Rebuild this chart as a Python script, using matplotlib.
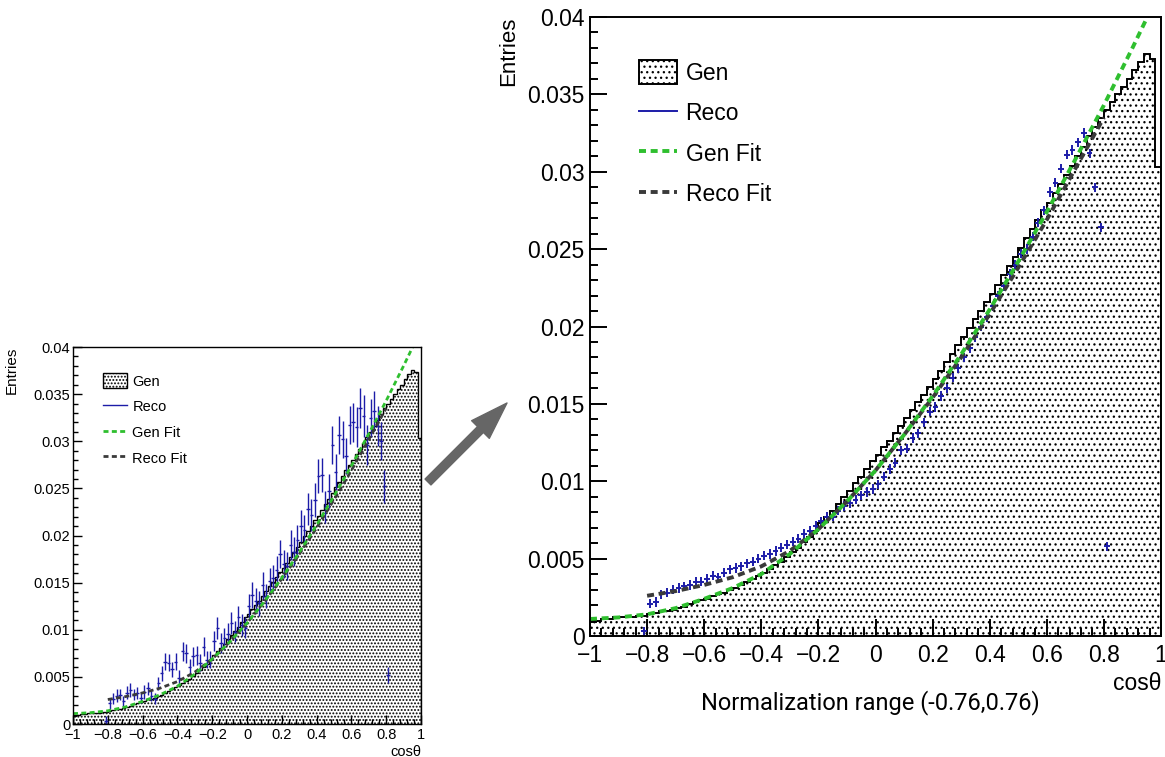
import numpy as np
import matplotlib.pyplot as plt
from matplotlib.patches import Patch
from matplotlib.lines import Line2D
from matplotlib.ticker import MultipleLocator

plt.rcParams['font.family'] = ['Liberation Sans', 'DejaVu Sans']
plt.rcParams['hatch.linewidth'] = 0.9

BLUE = '#1c1ca8'
GREEN = '#2fbf2f'
DARK = '#3a3a3a'

# Gen histogram, 100 bins from -1 to 1
gen_edges = np.linspace(-1, 1, 101)
gen_hist = [
    0.0009, 0.0010, 0.0011, 0.0011, 0.0012, 0.0012, 0.0012, 0.0012, 0.0013, 0.0013,
    0.0014, 0.0015, 0.0016, 0.0016, 0.0017, 0.0018, 0.0019, 0.0021, 0.0022, 0.0023,
    0.0024, 0.0026, 0.0027, 0.0028, 0.0030, 0.0031, 0.0033, 0.0035, 0.0037, 0.0039,
    0.0041, 0.0043, 0.0046, 0.0048, 0.0051, 0.0054, 0.0057, 0.0061, 0.0064, 0.0068,
    0.0073, 0.0077, 0.0081, 0.0085, 0.0090, 0.0094, 0.0099, 0.0103, 0.0108, 0.0113,
    0.0117, 0.0122, 0.0126, 0.0131, 0.0136, 0.0141, 0.0146, 0.0151, 0.0156, 0.0161,
    0.0166, 0.0171, 0.0177, 0.0182, 0.0188, 0.0193, 0.0199, 0.0205, 0.0210, 0.0216,
    0.0221, 0.0227, 0.0233, 0.0239, 0.0245, 0.0251, 0.0257, 0.0263, 0.0269, 0.0275,
    0.0280, 0.0286, 0.0292, 0.0298, 0.0304, 0.0310, 0.0316, 0.0323, 0.0329, 0.0335,
    0.0340, 0.0345, 0.0350, 0.0355, 0.0360, 0.0366, 0.0371, 0.0376, 0.0373, 0.0303,
]

gen_fit_x = [-1.0, -0.9, -0.8, -0.7, -0.6, -0.5, -0.4, -0.3, -0.2, -0.1, 0.0,
             0.1, 0.2, 0.3, 0.4, 0.5, 0.6, 0.7, 0.8, 0.9, 0.96]
gen_fit_y = [0.0011, 0.0012, 0.0014, 0.0018, 0.0024, 0.0031, 0.0040, 0.0053, 0.0069, 0.0087, 0.0107,
             0.0130, 0.0155, 0.0182, 0.0211, 0.0242, 0.0274, 0.0308, 0.0343, 0.0380, 0.0403]

reco_fit_x = [-0.8, -0.7, -0.6, -0.5, -0.4, -0.3, -0.2, -0.1, 0.0,
              0.1, 0.2, 0.3, 0.4, 0.5, 0.6, 0.7, 0.8]
reco_fit_y = [0.0026, 0.0029, 0.0033, 0.0038, 0.0045, 0.0055, 0.0069, 0.0087, 0.0107,
              0.0130, 0.0154, 0.0180, 0.0208, 0.0238, 0.0269, 0.0302, 0.0335]

# Reco points, bin centres -0.81 .. 0.81
reco_x = np.round(np.arange(-0.81, 0.82, 0.02), 2)

# small sample (left panel)
reco_small_y = [
    0.0003, 0.0022, 0.0027, 0.0030, 0.0031, 0.0024, 0.0033, 0.0036, 0.0031, 0.0033,
    0.0028, 0.0034, 0.0038, 0.0030, 0.0027, 0.0043, 0.0054, 0.0066, 0.0065, 0.0058,
    0.0066, 0.0049, 0.0077, 0.0075, 0.0060, 0.0072, 0.0073, 0.0065, 0.0082, 0.0068,
    0.0068, 0.0088, 0.0102, 0.0086, 0.0091, 0.0096, 0.0107, 0.0098, 0.0113, 0.0105,
    0.0102, 0.0125, 0.0137, 0.0131, 0.0128, 0.0147, 0.0136, 0.0152, 0.0155, 0.0163,
    0.0180, 0.0170, 0.0168, 0.0190, 0.0183, 0.0195, 0.0210, 0.0206, 0.0228, 0.0222,
    0.0238, 0.0263, 0.0264, 0.0230, 0.0247, 0.0296, 0.0267, 0.0307, 0.0302, 0.0284,
    0.0317, 0.0320, 0.0315, 0.0335, 0.0327, 0.0296, 0.0325, 0.0332, 0.0316, 0.0300,
    0.0252, 0.0052,
]
reco_small_err = [
    0.0005, 0.0006, 0.0006, 0.0007, 0.0006, 0.0006, 0.0007, 0.0007, 0.0006, 0.0006,
    0.0006, 0.0007, 0.0007, 0.0006, 0.0006, 0.0007, 0.0008, 0.0009, 0.0009, 0.0008,
    0.0009, 0.0008, 0.0010, 0.0010, 0.0009, 0.0010, 0.0010, 0.0009, 0.0010, 0.0009,
    0.0009, 0.0011, 0.0012, 0.0011, 0.0011, 0.0011, 0.0012, 0.0011, 0.0012, 0.0012,
    0.0011, 0.0013, 0.0014, 0.0013, 0.0013, 0.0014, 0.0013, 0.0014, 0.0014, 0.0015,
    0.0015, 0.0015, 0.0015, 0.0016, 0.0015, 0.0016, 0.0017, 0.0016, 0.0017, 0.0017,
    0.0018, 0.0018, 0.0018, 0.0017, 0.0018, 0.0020, 0.0019, 0.0020, 0.0020, 0.0019,
    0.0020, 0.0021, 0.0021, 0.0021, 0.0022, 0.0021, 0.0020, 0.0021, 0.0021, 0.0020,
    0.0018, 0.0008,
]

# large sample (right panel)
reco_big_y = [
    0.0003, 0.0021, 0.0022, 0.0027, 0.0028, 0.0030, 0.0031, 0.0032, 0.0033, 0.0035,
    0.0035, 0.0037, 0.0039, 0.0038, 0.0041, 0.0043, 0.0044, 0.0045, 0.0047, 0.0048,
    0.0050, 0.0052, 0.0053, 0.0055, 0.0057, 0.0059, 0.0061, 0.0063, 0.0066, 0.0068,
    0.0071, 0.0074, 0.0077, 0.0077, 0.0081, 0.0084, 0.0086, 0.0088, 0.0091, 0.0093,
    0.0095, 0.0098, 0.0103, 0.0108, 0.0112, 0.0120, 0.0121, 0.0128, 0.0131, 0.0138,
    0.0145, 0.0148, 0.0155, 0.0160, 0.0167, 0.0173, 0.0180, 0.0186, 0.0193, 0.0200,
    0.0206, 0.0213, 0.0220, 0.0226, 0.0234, 0.0240, 0.0247, 0.0250, 0.0258, 0.0267,
    0.0275, 0.0287, 0.0293, 0.0302, 0.0311, 0.0314, 0.0319, 0.0325, 0.0312, 0.0290,
    0.0264, 0.0058,
]
RECO_BIG_ERR = 0.0003

x_ticks = [-1, -0.8, -0.6, -0.4, -0.2, 0, 0.2, 0.4, 0.6, 0.8, 1]
x_labels = ['\u22121', '\u22120.8', '\u22120.6', '\u22120.4', '\u22120.2', '0',
            '0.2', '0.4', '0.6', '0.8', '1']
y_ticks = [0, 0.005, 0.01, 0.015, 0.02, 0.025, 0.03, 0.035, 0.04]
y_labels = ['0', '0.005', '0.01', '0.015', '0.02', '0.025', '0.03', '0.035', '0.04']


def draw_panel(ax, reco_y, reco_err, fs, hatch, major_len, xpad, ypad, lw):
    ax.stairs(gen_hist, gen_edges, fill=True, facecolor='white',
              edgecolor='black', hatch=hatch, linewidth=0)
    ax.stairs(gen_hist, gen_edges, baseline=0, color='black', linewidth=lw)
    ax.errorbar(reco_x, reco_y, yerr=reco_err, xerr=0.01, fmt='none',
                ecolor=BLUE, elinewidth=lw)
    ax.plot(reco_fit_x, reco_fit_y, color=DARK, linestyle=(0, (1.8, 1.2)), linewidth=lw * 2)
    ax.plot(gen_fit_x, gen_fit_y, color=GREEN, linestyle=(0, (1.8, 1.2)), linewidth=lw * 2)

    ax.set_xlim(-1, 1)
    ax.set_ylim(0, 0.04)
    ax.set_xticks(x_ticks, x_labels, fontsize=fs)
    ax.set_yticks(y_ticks, y_labels, fontsize=fs)
    ax.xaxis.set_minor_locator(MultipleLocator(0.04))
    ax.yaxis.set_minor_locator(MultipleLocator(0.001))
    ax.tick_params(which='both', direction='in', top=False, right=False, width=lw)
    ax.tick_params(which='major', length=major_len)
    ax.tick_params(which='minor', length=major_len * 0.5)
    ax.tick_params(axis='x', pad=xpad)
    ax.tick_params(axis='y', pad=ypad)
    for s in ax.spines.values():
        s.set_linewidth(lw)

    handles = [
        Patch(facecolor='white', edgecolor='black', hatch=hatch, linewidth=lw),
        Line2D([], [], color=BLUE, linewidth=lw),
        Line2D([], [], color=GREEN, linestyle=(0, (1.8, 1.2)), linewidth=lw * 2),
        Line2D([], [], color=DARK, linestyle=(0, (1.8, 1.2)), linewidth=lw * 2),
    ]
    ax.legend(handles, ['Gen', 'Reco', 'Gen Fit', 'Reco Fit'], loc='upper left',
              bbox_to_anchor=(0.085, 0.93), frameon=False, fontsize=fs,
              handlelength=1.7, handleheight=1.2, handletextpad=0.35,
              labelspacing=0.7, borderpad=0, borderaxespad=0)


fig = plt.figure(figsize=(11.65, 7.57), dpi=100)
ax_l = fig.add_axes([73 / 1165, 1 - 724 / 757, 348 / 1165, 377 / 757])
ax_r = fig.add_axes([590 / 1165, 1 - 636 / 757, 571 / 1165, 619 / 757])

draw_panel(ax_l, reco_small_y, reco_small_err, 10.5, '.....', 6.5, 3, 2, 1.0)
draw_panel(ax_r, reco_big_y, RECO_BIG_ERR, 16.5, '...', 12, 6, 4, 1.4)

ax_l.set_ylabel('Entries', loc='top', fontsize=11)
ax_l.yaxis.set_label_coords(-0.155, 1.0)
ax_l.set_xlabel('cos\u03b8', loc='right', fontsize=10.5)
ax_l.xaxis.set_label_coords(1.0, -0.055)

ax_r.set_ylabel('Entries', loc='top', fontsize=16)
ax_r.yaxis.set_label_coords(-0.125, 1.0)
ax_r.set_xlabel('cos\u03b8', loc='right', fontsize=16.5)
ax_r.xaxis.set_label_coords(1.0, -0.058)

fig.text(870 / 1165, 1 - 703 / 757, 'Normalization range (-0.76,0.76)',
         ha='center', va='center', family='Roboto', fontsize=17)

ax_r.annotate('', xy=(507, 757 - 403), xycoords='figure pixels',
              xytext=(428, 757 - 482), textcoords='figure pixels',
              arrowprops=dict(arrowstyle='simple,head_length=1.35,head_width=0.9,tail_width=0.3',
                              mutation_scale=20, color='#666666', shrinkA=0, shrinkB=0),
              annotation_clip=False)

fig.savefig('out.png', dpi=100)
